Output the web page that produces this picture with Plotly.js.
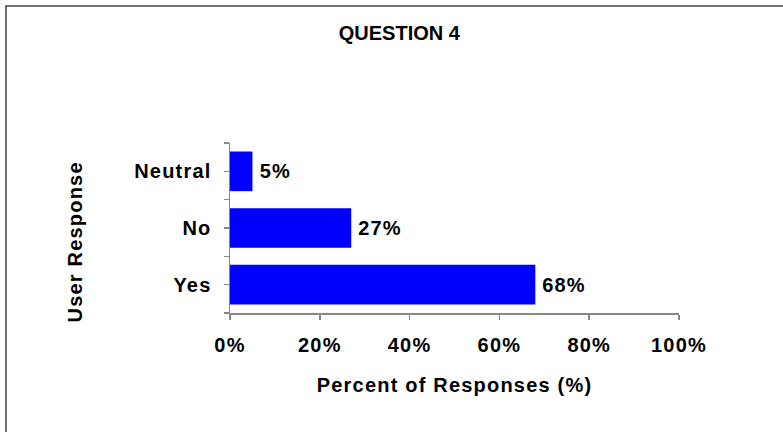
<!DOCTYPE html>
<html>
<head>
<meta charset="utf-8">
<script src="https://cdn.plot.ly/plotly-3.0.1.min.js"></script>
<style>
html, body { margin: 0; padding: 0; background: #fff; }
#chart { width: 783px; height: 432px; }
#chart svg text { letter-spacing: 1.2px; }
#chart svg .gtitle { letter-spacing: 0px; }
</style>
</head>
<body>
<div id="chart"></div>
<script>
// Data (bottom to top)
const categories = ["Yes", "No", "Neutral"];
const percentValues = [68, 27, 5];
const valueLabels = ["68%", "27%", "5%"];
const xTickVals = [0, 20, 40, 60, 80, 100];
const xTickText = ["0%", "20%", "40%", "60%", "80%", "100%"];

const FONT = "Liberation Sans, Arial, sans-serif";
const positions = categories.map((c, i) => i);

const trace = {
  type: "bar",
  orientation: "h",
  x: percentValues,
  y: positions,
  width: 0.7,
  marker: { color: "#0000ff", line: { width: 0 } },
  hoverinfo: "skip"
};

const annotations = percentValues.map((v, i) => ({
  x: v, y: positions[i], xref: "x", yref: "y",
  text: valueLabels[i], showarrow: false,
  xanchor: "left", yanchor: "middle", xshift: 7,
  font: { family: FONT, size: 20, color: "#000", weight: "bold" }
}));

annotations.push({
  x: -0.345, y: 0.42, xref: "paper", yref: "paper",
  text: "User Response", showarrow: false, textangle: -90,
  xanchor: "center", yanchor: "middle",
  font: { family: FONT, size: 20, color: "#000", weight: "bold" }
});

const layout = {
  width: 783, height: 432,
  margin: { l: 230, r: 104, t: 143, b: 119 },
  paper_bgcolor: "#fff", plot_bgcolor: "#fff",
  showlegend: false,
  title: {
    text: "QUESTION 4",
    x: 0.51, xanchor: "center", xref: "container",
    y: 0.924, yanchor: "middle", yref: "container",
    font: { family: FONT, size: 20, color: "#000", weight: "bold" }
  },
  xaxis: {
    range: [0, 100], tickvals: xTickVals, ticktext: xTickText,
    showgrid: false, zeroline: false,
    showline: true, linecolor: "#888", linewidth: 1.5,
    ticks: "outside", ticklen: 5, tickcolor: "#888", tickwidth: 1.5,
    ticklabelstandoff: 8,
    tickfont: { family: FONT, size: 20, color: "#000", weight: "bold" },
    title: { text: "Percent of Responses (%)", standoff: 23,
      font: { family: FONT, size: 20, color: "#000", weight: "bold" } },
    fixedrange: true
  },
  yaxis: {
    range: [-0.5, 2.5], tickvals: positions, ticktext: categories,
    showgrid: false, zeroline: false,
    showline: true, linecolor: "#888", linewidth: 1.5,
    ticks: "outside", ticklen: 5, tickcolor: "#888", tickwidth: 1.5,
    ticklabelstandoff: 8,
    minor: { tick0: 0.5, dtick: 1, ticks: "outside", ticklen: 5, tickcolor: "#888", tickwidth: 1.5, showgrid: false },
    tickfont: { family: FONT, size: 20, color: "#000", weight: "bold" },
    fixedrange: true
  },
  shapes: [{
    type: "rect", xref: "paper", yref: "paper",
    x0: -0.4989, x1: 1.4, y0: -0.9, y1: 1.806,
    line: { color: "#444", width: 1.5 }, fillcolor: "rgba(0,0,0,0)", layer: "below"
  }],
  annotations: annotations
};

Plotly.newPlot("chart", [trace], layout, { displayModeBar: false, staticPlot: true });
</script>
</body>
</html>
